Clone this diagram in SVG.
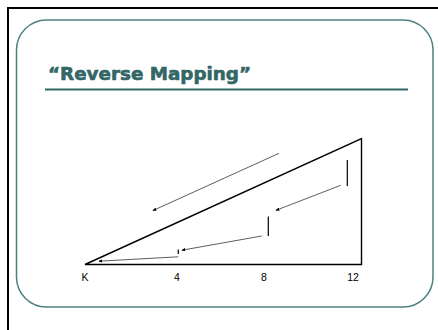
<svg xmlns="http://www.w3.org/2000/svg" width="438" height="330" viewBox="0 0 438 330">
<defs>
<marker id="ah" viewBox="0 0 6 6" refX="5" refY="3" markerWidth="4" markerHeight="4" orient="auto" markerUnits="userSpaceOnUse">
<path d="M0,0.5 L6,3 L0,5.5 z" fill="#000"/>
</marker>
<style>
.lbl{font-family:"Liberation Sans",Arial,sans-serif;font-size:10.5px;fill:#000;text-anchor:middle}
.arr{stroke:#333;stroke-width:0.8;fill:none;marker-end:url(#ah)}
.tick{stroke:#000;stroke-width:1.2}
.tri{stroke:#000;stroke-width:1.4;fill:none}
</style>
</defs>
<rect width="438" height="330" fill="#fff"/>
<path d="M8,330 V8 H438" fill="none" stroke="#000" stroke-width="2"/>
<rect x="16.5" y="20" width="416.5" height="287" rx="30" ry="30" fill="none" stroke="#4d8080" stroke-width="1.5"/>
<g id="title">
<text x="48" y="80" font-family="'DejaVu Sans',Verdana,sans-serif" font-weight="bold" font-size="17.5" fill="#336666" stroke="#336666" stroke-width="0.6" textLength="203" lengthAdjust="spacingAndGlyphs">“Reverse Mapping”</text>
<line x1="45" y1="89.5" x2="408" y2="89.5" stroke="#336666" stroke-width="2"/>
</g>
<g id="triangle">
<path class="tri" d="M85,264.5 L361.5,138.5 L361.5,264.5 Z"/>
</g>
<g id="ticks">
<line class="tick" x1="347.3" y1="160" x2="347.3" y2="186"/>
<line class="tick" x1="268.3" y1="216.5" x2="268.3" y2="236"/>
<line class="tick" x1="178.3" y1="249.5" x2="178.3" y2="254"/>
</g>
<g id="connectors">
<line class="arr" x1="279" y1="153.3" x2="153" y2="210.5"/>
<line class="arr" x1="340.7" y1="185.3" x2="276" y2="210.3"/>
<line class="arr" x1="261.7" y1="236" x2="182" y2="250.2"/>
<line class="arr" x1="178.3" y1="256.8" x2="99" y2="261.2"/>
</g>
<g id="labels">
<text class="lbl" x="85" y="281">K</text>
<text class="lbl" x="177" y="281">4</text>
<text class="lbl" x="264" y="281">8</text>
<text class="lbl" x="353" y="281">12</text>
</g>
</svg>
